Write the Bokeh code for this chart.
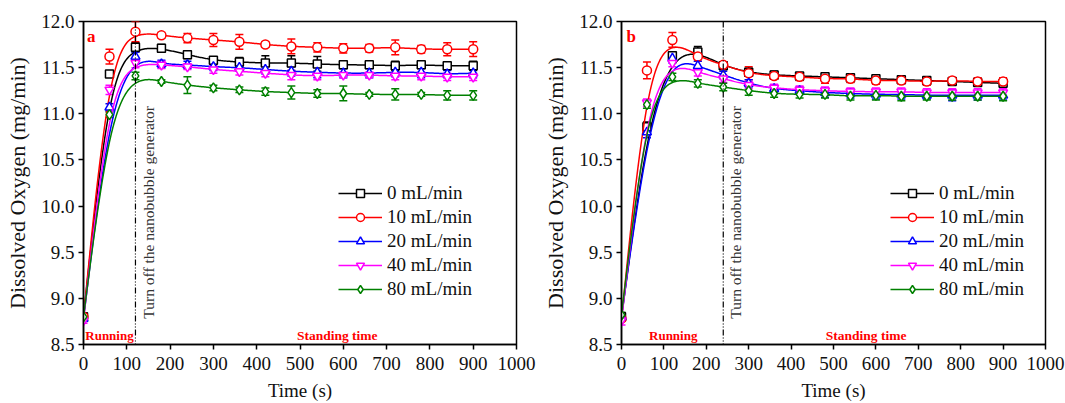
import numpy as np
from bokeh.plotting import figure
from bokeh.models import (ColumnDataSource, Whisker, TeeHead, Span, Label,
                          Legend, LegendItem, FixedTicker, PrintfTickFormatter)
from bokeh.layouts import row
from bokeh.embed import file_html
from bokeh.resources import INLINE

# Sampling times (s)
time_s = [0, 60, 120, 180, 240, 300, 360, 420, 480, 540, 600, 660, 720, 780, 840, 900]

series_names = ["0 mL/min", "10 mL/min", "20 mL/min", "40 mL/min", "80 mL/min"]

# Panel a: dissolved oxygen (mg/min) and standard deviations
a_0 = [8.80, 11.43, 11.72, 11.71, 11.64, 11.58, 11.56, 11.55, 11.55, 11.54, 11.53, 11.53, 11.52, 11.53, 11.52, 11.52]
a_10 = [8.80, 11.62, 11.89, 11.85, 11.82, 11.80, 11.78, 11.75, 11.73, 11.72, 11.71, 11.71, 11.72, 11.70, 11.70, 11.70]
a_20 = [8.78, 11.07, 11.62, 11.54, 11.53, 11.51, 11.50, 11.48, 11.46, 11.45, 11.44, 11.44, 11.45, 11.45, 11.43, 11.44]
a_40 = [8.76, 11.26, 11.55, 11.53, 11.51, 11.48, 11.46, 11.44, 11.42, 11.41, 11.42, 11.42, 11.41, 11.41, 11.40, 11.40]
a_80 = [8.80, 10.99, 11.41, 11.35, 11.31, 11.28, 11.26, 11.24, 11.23, 11.22, 11.22, 11.21, 11.21, 11.21, 11.20, 11.20]

a_0_err = [0.02, 0.03, 0.05, 0.04, 0.04, 0.03, 0.05, 0.08, 0.08, 0.08, 0.04, 0.03, 0.05, 0.04, 0.04, 0.05]
a_10_err = [0.02, 0.08, 0.11, 0.03, 0.05, 0.07, 0.08, 0.03, 0.08, 0.05, 0.05, 0.04, 0.08, 0.04, 0.07, 0.08]
a_20_err = [0.03, 0.04, 0.05, 0.04, 0.04, 0.04, 0.04, 0.05, 0.05, 0.06, 0.05, 0.05, 0.05, 0.06, 0.04, 0.05]
a_40_err = [0.03, 0.05, 0.05, 0.04, 0.03, 0.04, 0.04, 0.04, 0.05, 0.04, 0.03, 0.03, 0.04, 0.04, 0.04, 0.04]
a_80_err = [0.03, 0.03, 0.04, 0.02, 0.09, 0.03, 0.03, 0.04, 0.07, 0.04, 0.08, 0.02, 0.06, 0.02, 0.05, 0.05]

# Panel b
b_0 = [8.80, 10.86, 11.63, 11.67, 11.52, 11.45, 11.42, 11.41, 11.40, 11.39, 11.38, 11.37, 11.36, 11.35, 11.34, 11.33]
b_10 = [8.78, 11.47, 11.80, 11.62, 11.53, 11.44, 11.41, 11.40, 11.38, 11.38, 11.36, 11.36, 11.35, 11.36, 11.35, 11.35]
b_20 = [8.80, 10.80, 11.60, 11.52, 11.42, 11.33, 11.27, 11.25, 11.23, 11.22, 11.21, 11.21, 11.20, 11.20, 11.20, 11.20]
b_40 = [8.76, 11.12, 11.55, 11.45, 11.38, 11.31, 11.28, 11.26, 11.25, 11.24, 11.24, 11.24, 11.23, 11.23, 11.23, 11.23]
b_80 = [8.82, 11.10, 11.40, 11.33, 11.29, 11.25, 11.22, 11.21, 11.21, 11.19, 11.20, 11.19, 11.19, 11.19, 11.19, 11.19]

b_0_err = [0.02, 0.05, 0.04, 0.06, 0.03, 0.04, 0.04, 0.03, 0.04, 0.03, 0.03, 0.03, 0.04, 0.03, 0.03, 0.03]
b_10_err = [0.02, 0.09, 0.08, 0.05, 0.03, 0.07, 0.03, 0.04, 0.05, 0.04, 0.04, 0.03, 0.04, 0.03, 0.04, 0.04]
b_20_err = [0.03, 0.06, 0.05, 0.05, 0.04, 0.04, 0.04, 0.04, 0.05, 0.05, 0.05, 0.05, 0.04, 0.06, 0.05, 0.05]
b_40_err = [0.05, 0.04, 0.04, 0.04, 0.04, 0.04, 0.04, 0.04, 0.04, 0.04, 0.04, 0.04, 0.04, 0.04, 0.04, 0.04]
b_80_err = [0.03, 0.04, 0.04, 0.04, 0.04, 0.05, 0.04, 0.04, 0.04, 0.04, 0.05, 0.05, 0.04, 0.04, 0.04, 0.05]

x_ticks = [0, 100, 200, 300, 400, 500, 600, 700, 800, 900, 1000]
y_ticks = [8.5, 9.0, 9.5, 10.0, 10.5, 11.0, 11.5, 12.0]

colors = ["#000000", "#ff0000", "#0000ff", "#ff00ff", "#008000"]
markers = ["square", "circle", "triangle", "inverted_triangle", "diamond"]
marker_sizes = [8, 9, 9, 9, 10]

SERIF = "Liberation Serif"


def bspline_curve(t, y, samples=24):
    """Clamped uniform cubic B-spline that uses the samples as control points."""
    px = np.concatenate([[t[0]] * 2, t, [t[-1]] * 2]).astype(float)
    py = np.concatenate([[y[0]] * 2, y, [y[-1]] * 2]).astype(float)
    u = np.linspace(0.0, 1.0, samples, endpoint=False)
    b0 = (1 - u) ** 3 / 6
    b1 = (3 * u ** 3 - 6 * u ** 2 + 4) / 6
    b2 = (-3 * u ** 3 + 3 * u ** 2 + 3 * u + 1) / 6
    b3 = u ** 3 / 6
    xs, ys = [], []
    for i in range(len(px) - 3):
        xs.append(b0 * px[i] + b1 * px[i + 1] + b2 * px[i + 2] + b3 * px[i + 3])
        ys.append(b0 * py[i] + b1 * py[i + 1] + b2 * py[i + 2] + b3 * py[i + 3])
    xs.append([px[-1]])
    ys.append([py[-1]])
    return np.concatenate(xs), np.concatenate(ys)


def make_panel(tag, values, errors, turn_off, width, left, right,
               legend_x, tag_x, running_x, standing_x, note_x):
    p = figure(width=width, height=403, x_range=(0, 1000), y_range=(8.5, 12.0),
               output_backend="svg", toolbar_location=None,
               min_border_left=left, min_border_right=right,
               min_border_top=21, min_border_bottom=58)
    p.background_fill_color = "white"
    p.border_fill_color = "white"
    p.grid.grid_line_color = None
    p.outline_line_color = "black"
    p.outline_line_width = 1.5
    p.outline_line_alpha = 1.0

    for ax in (p.xaxis, p.yaxis):
        ax.axis_line_width = 1.5
        ax.axis_line_color = "black"
        ax.major_tick_line_color = "black"
        ax.major_tick_line_width = 1.5
        ax.major_tick_out = 5
        ax.major_tick_in = 0
        ax.minor_tick_line_color = None
        ax.major_label_text_font = SERIF
        ax.major_label_text_font_size = "19px"
        ax.major_label_text_color = "#111111"
        ax.axis_label_text_font = SERIF
        ax.axis_label_text_font_style = "normal"
        ax.axis_label_text_color = "#111111"
    p.xaxis.ticker = FixedTicker(ticks=x_ticks)
    p.yaxis.ticker = FixedTicker(ticks=y_ticks)
    p.yaxis.formatter = PrintfTickFormatter(format="%.1f")
    p.xaxis.axis_label = "Time (s)"
    p.yaxis.axis_label = "Dissolved Oxygen (mg/min)"
    p.xaxis.axis_label_text_font_size = "19px"
    p.yaxis.axis_label_text_font_size = "22px"
    p.xaxis.major_label_standoff = 7
    p.yaxis.major_label_standoff = 4
    p.xaxis.axis_label_standoff = 7
    p.yaxis.axis_label_standoff = 8

    # turn-off marker line
    p.add_layout(Span(location=turn_off, dimension="height", line_color="black",
                      line_width=1.2, line_dash="6 2 1 2 1 2"))

    items = []
    for name, vals, errs, col, mk, ms in zip(series_names, values, errors,
                                              colors, markers, marker_sizes):
        gx, gy = bspline_curve(time_s, vals)
        line_r = p.line(gx, gy, line_color=col, line_width=1.5)
        src = ColumnDataSource(dict(
            t=time_s, y=vals,
            lo=[v - e for v, e in zip(vals, errs)],
            hi=[v + e for v, e in zip(vals, errs)]))
        p.add_layout(Whisker(source=src, base="t", lower="lo", upper="hi",
                             line_color=col, line_width=1.5,
                             lower_head=TeeHead(size=8, line_color=col, line_width=1.5),
                             upper_head=TeeHead(size=8, line_color=col, line_width=1.5)))
        sc_r = p.scatter("t", "y", source=src, marker=mk, size=ms,
                         line_color=col, line_width=1.5, fill_color="white")
        items.append(LegendItem(label=name, renderers=[line_r, sc_r]))

    legend = Legend(items=items, location=(legend_x, 44),
                    border_line_color=None, background_fill_alpha=0,
                    padding=0, margin=0, spacing=2,
                    label_height=20, glyph_height=20, glyph_width=44,
                    label_standoff=5, label_text_font=SERIF,
                    label_text_font_size="19px", label_text_color="#111111")
    p.add_layout(legend)

    p.add_layout(Label(x=tag_x, y=11.84, text=tag, text_font=SERIF,
                       text_font_style="bold", text_font_size="17px",
                       text_color="#ff0000", text_baseline="middle"))
    p.add_layout(Label(x=running_x, y=8.6, text="Running", text_font=SERIF,
                       text_font_style="bold", text_font_size="13px",
                       text_color="#ff0000", text_align="center",
                       text_baseline="middle"))
    p.add_layout(Label(x=standing_x, y=8.6, text="Standing time", text_font=SERIF,
                       text_font_style="bold", text_font_size="13.5px",
                       text_color="#ff0000", text_align="center",
                       text_baseline="middle"))
    p.add_layout(Label(x=note_x, y=8.78, text="Turn off the nanobubble generator",
                       text_font=SERIF, text_font_size="15.5px", text_color="#333333",
                       angle=np.pi / 2, text_align="left", text_baseline="top"))
    return p


pa = make_panel("a", [a_0, a_10, a_20, a_40, a_80],
                [a_0_err, a_10_err, a_20_err, a_40_err, a_80_err],
                turn_off=120, width=540, left=83, right=24,
                legend_x=255, tag_x=8, running_x=60, standing_x=586, note_x=131)
pb = make_panel("b", [b_0, b_10, b_20, b_40, b_80],
                [b_0_err, b_10_err, b_20_err, b_40_err, b_80_err],
                turn_off=240, width=525, left=74, right=20,
                legend_x=269, tag_x=12, running_x=122, standing_x=577, note_x=249)

layout = row(pa, pb, spacing=0)
open("out.html", "w").write(file_html(layout, INLINE))
